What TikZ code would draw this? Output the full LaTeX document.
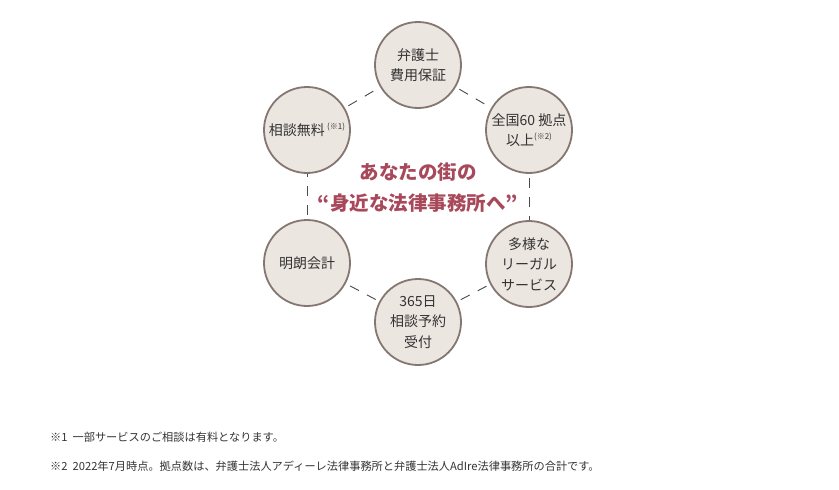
\documentclass[tikz,border=0pt]{standalone}
\usepackage{fontspec}
\setmainfont{Noto Sans CJK JP}
\definecolor{circfill}{HTML}{ECE6E1}
\definecolor{circdraw}{HTML}{857672}
\definecolor{txt}{HTML}{333333}
\definecolor{dashc}{HTML}{4A4A4A}
\definecolor{accent}{HTML}{A8495B}
\begin{document}
\begin{tikzpicture}[x=1pt,y=-1pt,
  bubble/.style={circle,draw=circdraw,line width=1.8pt,fill=circfill,minimum size=86pt,inner sep=0pt,align=center,text=txt,font=\fontsize{14}{20.5}\selectfont},
  ring/.style={draw=dashc,line width=0.9pt,dash pattern=on 10pt off 9pt,dash phase=-4pt},
  note/.style={anchor=west,text=txt,font=\fontsize{11.2}{13}\selectfont,inner sep=0pt}]
\useasboundingbox (0,0) rectangle (839,490);
\node[bubble] (top) at (418,65) {弁護士\\費用保証};
\node[bubble] (tr) at (529,130) {全国60 拠点\\以上\raisebox{0.45em}{\fontsize{8}{9}\selectfont(※2)}};
\node[bubble] (br) at (529,264) {多様な\\リーガル\\サービス};
\node[bubble] (bot) at (418,322) {365日\\相談予約\\受付};
\node[bubble] (bl) at (307,263) {明朗会計};
\node[bubble] (tl) at (307,130) {相談無料\,\raisebox{0.45em}{\fontsize{8}{9}\selectfont(※1)}};
\draw[ring] (top) -- (tr);
\draw[ring] (tr) -- (br);
\draw[ring] (br) -- (bot);
\draw[ring] (bot) -- (bl);
\draw[ring] (bl) -- (tl);
\draw[ring] (tl) -- (top);
\node[text=accent,font=\bfseries\fontsize{19.5}{31}\selectfont,align=center] (center) at (418,188) {あなたの街の\\“身近な法律事務所へ”};
\node[note] (n1) at (50,437) {※1\ \ 一部サービスのご相談は有料となります。};
\node[note] (n2) at (50,466) {※2\ \ 2022年7月時点。拠点数は、弁護士法人アディーレ法律事務所と弁護士法人AdIre法律事務所の合計です。};
\end{tikzpicture}
\end{document}
